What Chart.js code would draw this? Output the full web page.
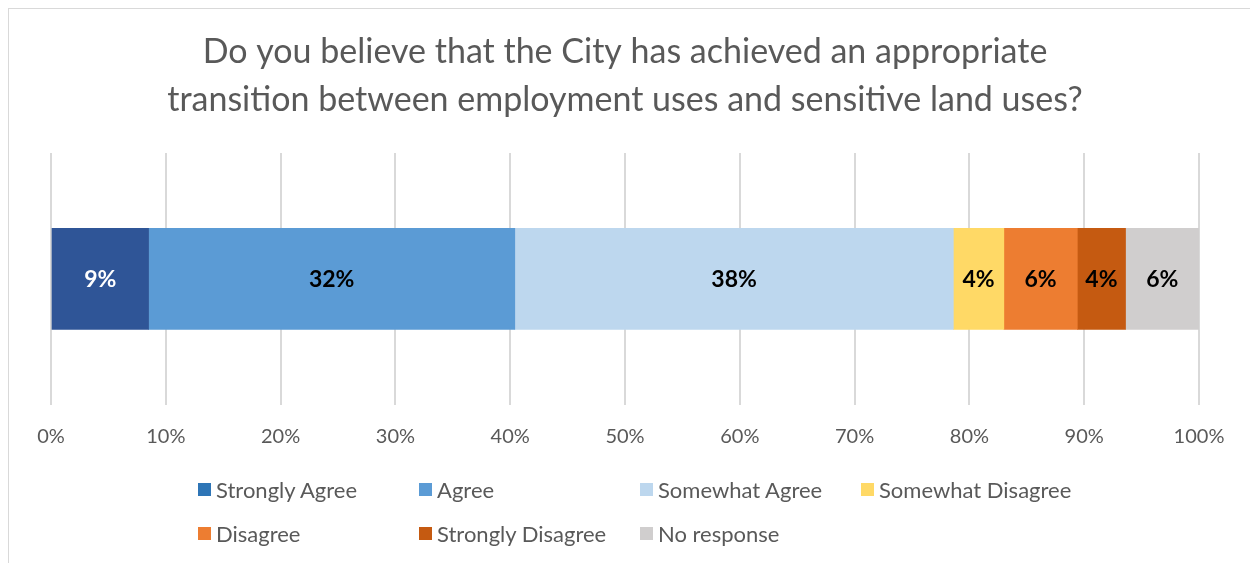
<!DOCTYPE html>
<html>
<head>
<meta charset="utf-8">
<script src="https://cdn.jsdelivr.net/npm/chart.js@4/dist/chart.umd.min.js"></script>
<style>
    body { margin: 0; background: #fff; font-family: Lato, "Noto Sans", sans-serif; }
    #wrap { position: relative; width: 1250px; height: 563px; overflow: hidden; }
    #frame { position: absolute; left: 8px; top: 8px; width: 1260px; height: 600px; border: 1px solid #d9d9d9; }
    canvas { position: absolute; left: 0; top: 0; }
    #legend { position: absolute; left: 198px; top: 476px; display: grid; grid-template-columns: repeat(4, 221px); row-gap: 18px; }
    .item { display: flex; align-items: center; font-size: 22px; color: #595959; height: 26px; white-space: nowrap; }
    .box { width: 13px; height: 13px; margin-right: 5px; flex: none; }
</style>
</head>
<body>
<div id="wrap">
    <div id="frame"></div>
    <canvas id="chart" width="1250" height="563"></canvas>
    <div id="legend"></div>
</div>
<script>
// Survey answers (percent of respondents)
const categories = ['Response'];
const seriesNames = ['Strongly Agree', 'Agree', 'Somewhat Agree', 'Somewhat Disagree', 'Disagree', 'Strongly Disagree', 'No response'];
const seriesValues = [8.5, 31.9, 38.2, 4.4, 6.4, 4.2, 6.4];
const barColors = ['#2f5597', '#5b9bd5', '#bdd7ee', '#ffd966', '#ed7d31', '#c55a11', '#d0cece'];
const legendColors = ['#2e75b6', '#5b9bd5', '#bdd7ee', '#ffd966', '#ed7d31', '#c55a11', '#d0cece'];
const labelColors = ['#ffffff', '#000000', '#000000', '#000000', '#000000', '#000000', '#000000'];
const tickValues = [0, 10, 20, 30, 40, 50, 60, 70, 80, 90, 100];
const titleLines = ['Do you believe that the City has achieved an appropriate', 'transition between employment uses and sensitive land uses?'];

const datasets = seriesNames.map((name, i) => ({
    label: name,
    data: [seriesValues[i]],
    backgroundColor: barColors[i],
    borderWidth: 0,
    barThickness: 101
}));

// Draw percentage labels in the middle of each segment
const barLabels = {
    id: 'barLabels',
    afterDatasetsDraw(chart) {
        const ctx = chart.ctx;
        ctx.save();
        ctx.font = 'bold 23px Lato, "Noto Sans", sans-serif';
        ctx.textAlign = 'center';
        ctx.textBaseline = 'middle';
        chart.data.datasets.forEach((ds, i) => {
            const bar = chart.getDatasetMeta(i).data[0];
            const x = (bar.x + bar.base) / 2;
            ctx.fillStyle = labelColors[i];
            ctx.fillText(Math.round(ds.data[0]) + '%', x, bar.y + 1);
        });
        ctx.restore();
    }
};

new Chart(document.getElementById('chart'), {
    type: 'bar',
    data: { labels: categories, datasets: datasets },
    options: {
        indexAxis: 'y',
        responsive: false,
        animation: false,
        layout: { padding: { left: 51, right: 51, bottom: 94 } },
        plugins: {
            legend: { display: false },
            tooltip: { enabled: false },
            title: {
                display: true,
                text: titleLines,
                color: '#595959',
                font: { family: 'Lato, "Noto Sans", sans-serif', size: 34, weight: 'normal', lineHeight: 1.41 },
                padding: { top: 28, bottom: 29 }
            }
        },
        scales: {
            x: {
                stacked: true,
                min: 0,
                max: 100,
                afterBuildTicks(axis) { axis.ticks = tickValues.map(v => ({ value: v })); },
                ticks: {
                    color: '#595959',
                    font: { family: 'Lato, "Noto Sans", sans-serif', size: 20 },
                    padding: 20,
                    maxRotation: 0,
                    callback: v => v + '%'
                },
                grid: { color: '#d9d9d9', lineWidth: 2, drawTicks: false },
                border: { display: false }
            },
            y: { stacked: true, display: false }
        }
    },
    plugins: [barLabels]
});

// HTML legend laid out in a 4-column grid
const legend = document.getElementById('legend');
seriesNames.forEach((name, i) => {
    const item = document.createElement('div');
    item.className = 'item';
    item.innerHTML = `<span class="box" style="background:${legendColors[i]}"></span>${name}`;
    legend.appendChild(item);
});
</script>
</body>
</html>
